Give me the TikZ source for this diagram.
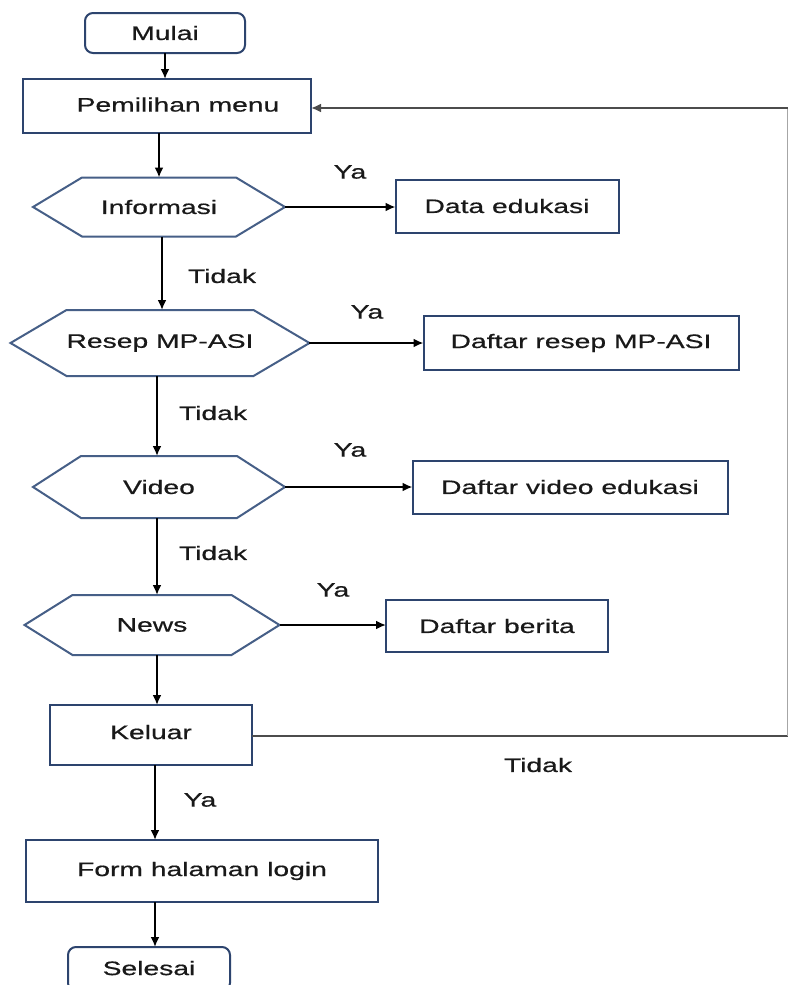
\documentclass[tikz,border=0pt]{standalone}
\usepackage{fontspec}
\setmainfont{Liberation Sans}[FakeStretch=1.45,FakeBold=0.6]
\usetikzlibrary{arrows.meta,calc}
\definecolor{boxline}{RGB}{45,68,110}
\definecolor{hexcol}{RGB}{70,95,135}
\definecolor{txt}{RGB}{25,25,25}
\newcommand\hexpath[2]{\draw[hexline] (#1.north west) -- (#1.north east) -- ([xshift=#2]#1.east) coordinate (#1-r) -- (#1.south east) -- (#1.south west) -- ([xshift=-#2]#1.west) coordinate (#1-l) -- cycle;}
\begin{document}
\begin{tikzpicture}[x=1pt,y=-1pt,
  font=\fontsize{19.5}{21}\selectfont, text=txt,
  every node/.style={outer sep=0pt, inner sep=0pt},
  procbox/.style={draw=boxline, line width=2pt, rectangle},
  termbox/.style={draw=boxline, line width=2pt, rectangle, rounded corners=8pt},
  hexbody/.style={rectangle},
  hexline/.style={draw=hexcol, line width=2pt, line join=miter},
  conn/.style={draw=black, line width=2.2pt, -{Latex[length=10pt,width=9pt]}},
  loopline/.style={draw=black!70, line width=2.2pt},
  lbl/.style={text=txt}]
\useasboundingbox (0,0) rectangle (789,985);
\clip (0,0) rectangle (789,985);
\fill[white] (0,0) rectangle (789,985);
% terminals and process boxes
\node[termbox, minimum width=160pt, minimum height=40pt] (mulai) at (165,33) {Mulai};
\node[procbox, minimum width=288pt, minimum height=54pt] (menu) at (167,106) {\hspace*{22pt}\raisebox{3pt}{Pemilihan menu}};
\node[hexbody, minimum width=154pt, minimum height=59pt] (info) at (159,207) {Informasi};
\hexpath{info}{49pt}
\node[procbox, minimum width=223pt, minimum height=53pt] (data) at (507,206) {Data edukasi};
\node[hexbody, minimum width=178pt, minimum height=66pt] (resep) at (160,343) {Resep MP-ASI};
\hexpath{resep}{56pt}
\node[procbox, minimum width=315pt, minimum height=54pt] (dresep) at (581,343) {Daftar resep MP-ASI};
\node[hexbody, minimum width=156pt, minimum height=62pt] (video) at (159,487) {Video};
\hexpath{video}{48pt}
\node[procbox, minimum width=315pt, minimum height=53pt] (dvideo) at (570,487) {Daftar video edukasi};
\node[hexbody, minimum width=159pt, minimum height=60pt] (news) at (152,625) {News};
\hexpath{news}{48pt}
\node[procbox, minimum width=222pt, minimum height=52pt] (berita) at (497,626) {Daftar berita};
\node[procbox, minimum width=202pt, minimum height=60pt] (keluar) at (151,735) {\raisebox{6pt}{Keluar}};
\node[procbox, minimum width=352pt, minimum height=62pt] (login) at (202,871) {Form halaman login};
\node[termbox, minimum width=162pt, minimum height=44pt] (selesai) at (149,969) {\raisebox{2pt}{Selesai}};
% vertical flow
\draw[conn] (mulai.south) -- (mulai.south |- menu.north);
\draw[conn] (info.north |- menu.south) -- (info.north);
\draw[conn] ([xshift=3pt]info.south) -- ([xshift=3pt]info.south |- resep.north);
\draw[conn] ([xshift=-3pt]resep.south) -- ([xshift=-2pt]video.north);
\draw[conn] ([xshift=-2pt]video.south) -- ([xshift=-2pt]video.south |- news.north);
\draw[conn] ([xshift=5pt]news.south) -- ([xshift=5pt]news.south |- keluar.north);
\draw[conn] ([xshift=4pt]keluar.south) -- ([xshift=4pt]keluar.south |- login.north);
\draw[conn] ([xshift=4pt]keluar.south |- login.south) -- ([xshift=4pt]keluar.south |- selesai.north);
% Ya branches
\draw[conn] (info-r) -- (data.west |- info-r);
\draw[conn] (resep-r) -- (dresep.west |- resep-r);
\draw[conn] (video-r) -- (dvideo.west |- video-r);
\draw[conn] (news-r) -- (berita.west |- news-r);
% loop back
\coordinate (lb) at (787.5,736);
\coordinate (lt) at (787.5,108);
\draw[loopline] (keluar.east |- lb) -- (lb);
\draw[draw=black!35, line width=1.2pt] (lb) -- (lt);
\draw[loopline, -{Latex[length=10pt,width=9pt]}] (lt) -- ([yshift=-2pt]menu.east);
% labels
\node[lbl] (ya1) at (350,172) {Ya};
\node[lbl] (t1) at (222,276) {Tidak};
\node[lbl] (ya2) at (367,312) {Ya};
\node[lbl] (t2) at (213,413) {Tidak};
\node[lbl] (ya3) at (350,450) {Ya};
\node[lbl] (t3) at (213,553) {Tidak};
\node[lbl] (ya4) at (333,590) {Ya};
\node[lbl] (t4) at (538,765) {Tidak};
\node[lbl] (ya5) at (200,800) {Ya};
\end{tikzpicture}
\end{document}
